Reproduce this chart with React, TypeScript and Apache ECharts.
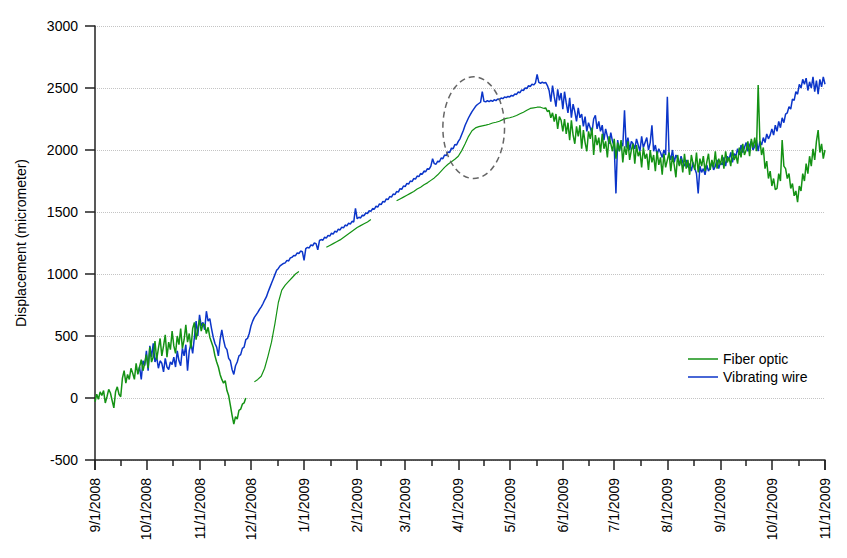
import React, { useEffect, useRef } from "react";
import * as echarts from "echarts";

// Axis range (local dates) and y ticks
const X_START: [number, number, number] = [2008, 8, 1]; // 9/1/2008
const X_END: [number, number, number] = [2009, 10, 1]; // 11/1/2009
const Y_MIN = -500;
const Y_MAX = 3000;
const Y_INTERVAL = 500;

const LEGEND_NAMES = ["Fiber optic", "Vibrating wire"];
const Y_TITLE = "Displacement (micrometer)";

// Each chunk: values read at startDay, startDay + stepDays, ... (days after 9/1/2008)
type Chunk = { startDay: number; stepDays: number; values: number[] };

// ---------- Fiber optic (green) ----------
const fiberFall2008: Chunk = {
  startDay: 0,
  stepDays: 1,
  values: [
    -30, 30, -10, 50, 20, 60, -40, 10, 70, 40,
    -20, -80, 50, 90, 30, 10, 160, 220, 120, 190,
    150, 240, 200, 150, 280, 190, 250, 310, 220, 280,
    350, 240, 410, 290, 330, 460, 310, 400, 480, 340,
    420, 510, 330, 450, 390, 540, 420, 360, 500, 430,
    560, 400, 470, 590, 450, 520, 400, 560, 610, 470,
    560, 630, 540, 600, 590, 520, 570, 490, 450, 410,
    340, 290, 250, 190, 150, 120, 140, 60, 20, -60,
    -140, -210, -150, -170, -100, -90, -50, -40, 0,
  ],
};
const fiberDec2008: Chunk = {
  startDay: 93,
  stepDays: 2,
  values: [130, 150, 175, 240, 340, 450, 600, 770, 870, 910, 940, 970, 1000, 1020],
};
const fiberJan2009: Chunk = {
  startDay: 135,
  stepDays: 2,
  values: [1215, 1230, 1245, 1260, 1275, 1295, 1315, 1335, 1355, 1375, 1390, 1405, 1420, 1440],
};
const fiberSpring2009: Chunk = {
  startDay: 176,
  stepDays: 2,
  values: [
    1590, 1605, 1620, 1635, 1650, 1665, 1685, 1700, 1720, 1735,
    1755, 1775, 1800, 1830, 1860, 1885, 1905, 1925, 1950, 1995,
    2050, 2110, 2155, 2178, 2188, 2195, 2200, 2208, 2218, 2224,
    2232, 2245, 2255, 2260, 2268, 2278, 2292, 2305, 2320, 2335,
    2340, 2345, 2345, 2335,
  ],
};
const fiberSummer2009: Chunk = {
  startDay: 263,
  stepDays: 1,
  values: [
    2340, 2310,
    2320, 2260, 2300, 2230, 2290, 2170, 2270, 2240, 2150, 2250,
    2130, 2220, 2080, 2240, 2120, 2050, 2190, 2110, 2200, 2010,
    2160, 2060, 1990, 2150, 2090, 2180, 1960, 2120, 2040, 2100,
    1980, 2130, 2010, 2070, 1940, 2110, 2050, 1990, 2090, 1930,
    2060, 1990, 2080, 1900, 2030, 1960, 2070, 1920, 2000, 2050,
    1890, 2040, 1950, 1990, 1860, 2020, 1930, 1970, 1840, 2000,
    1900, 1960, 1830, 1990, 1880, 1940, 1800, 1970, 1860, 1920,
    1980, 1830, 1950, 1880, 1780, 1960, 1870, 1930, 1820, 1970,
    1850, 1920, 1800, 1960, 1890, 1840, 1980, 1820, 1930, 1870,
    1950, 1830, 1900, 1970, 1840, 1920, 1860, 1990, 1850, 1930,
    1880, 1960, 1850, 1990, 1900, 1940, 1870, 2000, 1920, 1960,
    1890, 2020, 1940, 2050, 1960, 2000, 2070, 1950, 2090, 2020,
    2100, 1990, 2525, 2080, 1960, 2020, 1850, 1910, 1770, 1830,
    1710, 1770, 1680, 1690, 1810, 1750, 2080, 1870, 1850, 1770,
    1810, 1690, 1730, 1630, 1670, 1580, 1710, 1670, 1810, 1750,
    1890, 1810, 1950, 1870, 2010, 1920, 2070, 2160, 1980, 2050, 1930, 2000,
  ],
};

// ---------- Vibrating wire (blue) ----------
const wireFall2008: Chunk = {
  startDay: 25,
  stepDays: 1,
  values: [
    200, 250, 150, 300, 260, 380, 220, 420, 330, 440,
    290, 330, 240, 300, 280, 210, 320, 250, 230, 290,
    270, 330, 250, 380, 300, 260, 400, 340, 430, 220,
    380, 440, 360, 490, 620, 500, 670, 580, 610, 550,
    700, 620, 640, 560, 490, 440, 410, 340, 470, 550,
    470, 410, 390, 320, 300, 230, 190, 260, 290, 340,
    350, 400, 410, 470, 480, 520,
  ],
};
const wireWinter2009: Chunk = {
  startDay: 91,
  stepDays: 1,
  values: [
    580, 620, 650, 670, 690, 715, 735, 760, 790, 815,
    855, 890, 925, 960, 995, 1030, 1045, 1065, 1075, 1085,
    1090, 1110, 1105, 1130, 1135, 1150, 1148, 1170, 1165, 1185,
    1180, 1110, 1205, 1215, 1210, 1235, 1228, 1250, 1245, 1195,
    1270, 1278, 1272, 1298, 1290, 1312, 1305, 1330, 1322, 1345,
    1338, 1362, 1355, 1378, 1372, 1395, 1388, 1410, 1402, 1425,
    1420, 1530, 1445, 1458, 1452, 1475, 1470, 1492, 1488, 1510,
    1505, 1528, 1522, 1548, 1540, 1565, 1560, 1585, 1580, 1605,
    1600, 1625, 1620, 1645, 1640, 1665, 1660, 1688, 1682, 1710,
    1705, 1730, 1725, 1750, 1745, 1770, 1765, 1790, 1785, 1810,
    1805, 1830, 1825, 1850, 1845, 1870, 1930, 1890, 1885, 1910,
    1905, 1935, 1930, 1960, 1955, 1985, 1980, 2015, 2010, 2045,
    2040, 2070, 2090, 2125, 2160, 2200, 2230, 2260, 2285, 2310,
    2330, 2350, 2365, 2375, 2385, 2470, 2392, 2388, 2398, 2390,
    2400, 2392, 2405, 2398, 2412, 2405, 2420, 2414, 2428, 2422,
    2432, 2428, 2440, 2435, 2452, 2448, 2468, 2462, 2485, 2480,
    2500, 2496, 2518, 2512, 2530, 2525, 2540, 2610, 2545, 2538,
    2548, 2540, 2545, 2520,
  ],
};
const wireSummer2009: Chunk = {
  startDay: 265,
  stepDays: 1,
  values: [
    2480, 2390, 2520, 2430, 2350, 2490, 2400, 2460, 2330, 2470,
    2380, 2300, 2420, 2260, 2370, 2310, 2230, 2340, 2260, 2290,
    2190, 2270, 2150, 2220, 2180, 2140, 2250, 2280, 2170, 2230,
    2150, 2200, 2080, 2170, 2110, 2050, 2140, 2070, 2030, 1650,
    2080, 1990, 2060, 2030, 2320, 2020, 2100, 2000, 2070, 2050,
    2010, 2090, 2040, 1990, 2110, 2020, 2060, 2100, 2000, 2060,
    2200, 1990, 2040, 1960, 2010, 1980, 1940, 2000, 1960, 2430,
    1970, 1920, 2000, 1900, 1960, 1930, 1880, 1950, 1900, 1870,
    1920, 1860, 1890, 1830, 1900, 1850, 1810, 1650, 1870, 1820,
    1850, 1800, 1880, 1830, 1860, 1900, 1840, 1870, 1920, 1850,
    1900, 1880, 1940, 1870, 1950, 1920, 1980, 1900, 1970, 1950,
    2010, 1960, 2040, 1980, 2020, 2060, 1990, 2040, 2070, 2000,
    2030, 2080, 1990, 2070, 2040, 2100, 2060, 2130, 2090, 2120,
    2170, 2120, 2200, 2150, 2230, 2180, 2260, 2220, 2290, 2300,
    2350, 2330, 2410, 2400, 2470, 2450, 2530, 2500, 2570, 2530,
    2580, 2480, 2550, 2500, 2590, 2470, 2560, 2450, 2570, 2510, 2590, 2530,
  ],
};

// Annotation ellipse (data coords: days after 9/1/2008, micrometer)
const HIGHLIGHT = { centerDay: 221, centerValue: 2180, halfDays: 18, halfValue: 410 };

const GREEN = "#149214";
const BLUE = "#0b35c9";
const FONT = "'Liberation Sans', Arial, Helvetica, sans-serif";

function dayToTime(d: number): number {
  return new Date(X_START[0], X_START[1], X_START[2] + d).getTime();
}

function chunksToData(chunks: Chunk[]): [number, number][] {
  const out: [number, number][] = [];
  for (const c of chunks) {
    c.values.forEach((v, i) => out.push([dayToTime(c.startDay + i * c.stepDays), v]));
  }
  return out;
}

export default function App() {
  const ref = useRef<HTMLDivElement>(null);

  useEffect(() => {
    document.body.style.margin = "0";
    if (!ref.current) return;
    const chart = echarts.init(ref.current, undefined, { renderer: "svg" });
    const DAY = 86400000;

    const lineSeries = (name: string, color: string, width: number, data: [number, number][], z: number) => ({
      name,
      type: "line",
      symbol: "none",
      showSymbol: false,
      data,
      lineStyle: { color, width },
      itemStyle: { color },
      z,
    });

    const springData = chunksToData([fiberSpring2009]);
    const summerData = [springData[springData.length - 1], ...chunksToData([fiberSummer2009])];

    const series: any[] = [
      lineSeries(LEGEND_NAMES[1], BLUE, 1.5, chunksToData([wireFall2008, wireWinter2009, wireSummer2009]), 2),
      lineSeries(LEGEND_NAMES[0], GREEN, 1.5, chunksToData([fiberFall2008]), 3),
      lineSeries(LEGEND_NAMES[0], GREEN, 1.2, chunksToData([fiberDec2008]), 3),
      lineSeries(LEGEND_NAMES[0], GREEN, 1.2, chunksToData([fiberJan2009]), 3),
      lineSeries(LEGEND_NAMES[0], GREEN, 1.2, springData, 3),
      lineSeries(LEGEND_NAMES[0], GREEN, 1.5, summerData, 3),
    ];

    chart.setOption({
      animation: false,
      backgroundColor: "#ffffff",
      textStyle: { fontFamily: FONT },
      grid: { left: 95, right: 22, top: 26, bottom: 98, containLabel: false },
      legend: {
        data: LEGEND_NAMES.map((n) => ({ name: n, icon: "rect" })),
        orient: "vertical",
        left: 683,
        top: 346,
        itemWidth: 30,
        itemHeight: 1.5,
        itemGap: 2,
        textStyle: { fontSize: 14, color: "#000", fontFamily: FONT, lineHeight: 16 },
      },
      xAxis: {
        type: "time",
        min: dayToTime(0),
        max: new Date(X_END[0], X_END[1], X_END[2]).getTime(),
        splitNumber: 14,
        minInterval: 28 * DAY,
        maxInterval: 31 * DAY,
        axisLine: { show: true, onZero: false, lineStyle: { color: "#222", width: 1.5 } },
        axisTick: { show: true, length: 10, lineStyle: { color: "#222", width: 1.5 } },
        minorTick: { show: true, splitNumber: 2, length: 6, lineStyle: { color: "#222", width: 1.5 } },
        splitLine: { show: false },
        axisLabel: {
          rotate: 90,
          margin: 18,
          fontSize: 14,
          color: "#000",
          fontFamily: FONT,
          showMinLabel: true,
          showMaxLabel: true,
          hideOverlap: false,
          formatter: (v: number) => {
            const d = new Date(v);
            return `${d.getMonth() + 1}/${d.getDate()}/${d.getFullYear()}`;
          },
        },
      },
      yAxis: {
        type: "value",
        min: Y_MIN,
        max: Y_MAX,
        interval: Y_INTERVAL,
        name: Y_TITLE,
        nameLocation: "middle",
        nameGap: 67,
        nameTextStyle: { fontSize: 14, color: "#000", fontFamily: FONT },
        axisLine: { show: true, lineStyle: { color: "#222", width: 1.5 } },
        axisTick: { show: true, length: 10, lineStyle: { color: "#222", width: 1.5 } },
        axisLabel: {
          fontSize: 14,
          margin: 17,
          color: "#000",
          fontFamily: FONT,
          formatter: (v: number) => String(v),
        },
        splitLine: { show: true, lineStyle: { type: "dotted", color: "#c4c4c4", width: 1 } },
      },
      series,
    });

    const c = chart.convertToPixel({ gridIndex: 0 }, [
      dayToTime(HIGHLIGHT.centerDay),
      HIGHLIGHT.centerValue,
    ]) as number[];
    const e = chart.convertToPixel({ gridIndex: 0 }, [
      dayToTime(HIGHLIGHT.centerDay + HIGHLIGHT.halfDays),
      HIGHLIGHT.centerValue - HIGHLIGHT.halfValue,
    ]) as number[];
    chart.setOption({
      graphic: [
        {
          type: "ellipse",
          shape: { cx: c[0], cy: c[1], rx: Math.abs(e[0] - c[0]), ry: Math.abs(e[1] - c[1]) },
          style: { fill: "none", stroke: "#666", lineWidth: 1.5, lineDash: [6, 4] },
          z: 100,
        },
      ],
    });

    return () => chart.dispose();
  }, []);

  return <div ref={ref} style={{ width: 847, height: 558 }} />;
}
